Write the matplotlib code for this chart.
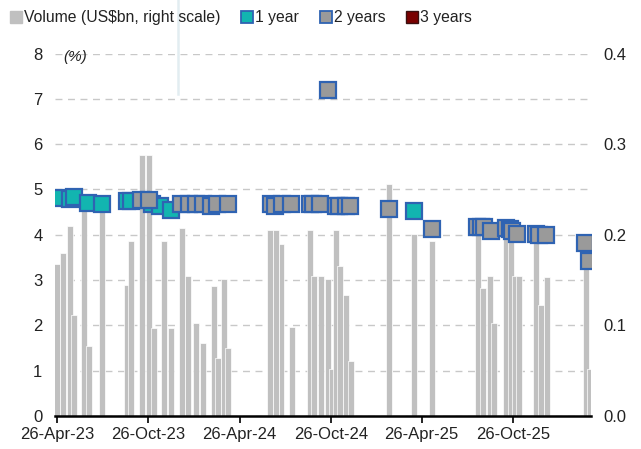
import matplotlib
matplotlib.use("Agg")
import matplotlib.dates as mdates
import matplotlib.pyplot as plt
import numpy as np
import pandas as pd
from matplotlib import font_manager
from matplotlib.lines import Line2D
from matplotlib.ticker import MultipleLocator

# volume bars (US$bn, right scale)
vol_dates = [
    "2023-04-27", "2023-05-08", "2023-05-22", "2023-05-30", "2023-06-19", "2023-06-29",
    "2023-07-26", "2023-09-14", "2023-09-21", "2023-10-14", "2023-10-27", "2023-11-07",
    "2023-11-26", "2023-12-10", "2024-01-01", "2024-01-14", "2024-01-29", "2024-02-12",
    "2024-03-05", "2024-03-13", "2024-03-26", "2024-04-03", "2024-06-26", "2024-07-08",
    "2024-07-19", "2024-08-09", "2024-09-14", "2024-09-22", "2024-10-06", "2024-10-20",
    "2024-10-28", "2024-11-05", "2024-11-13", "2024-11-25", "2024-12-05", "2025-02-19",
    "2025-04-11", "2025-05-16", "2025-08-17", "2025-08-26", "2025-09-09", "2025-09-17",
    "2025-10-12", "2025-10-22", "2025-10-30", "2025-11-07", "2025-12-11", "2025-12-21",
    "2026-01-02", "2026-03-21", "2026-03-29",
]
vol_values = [
    0.168, 0.180, 0.210, 0.112, 0.233, 0.077,
    0.233, 0.145, 0.193, 0.288, 0.288, 0.097,
    0.193, 0.097, 0.208, 0.154, 0.103, 0.081,
    0.144, 0.064, 0.151, 0.075, 0.205, 0.205,
    0.190, 0.098, 0.205, 0.155, 0.155, 0.151,
    0.052, 0.205, 0.166, 0.134, 0.061, 0.256,
    0.201, 0.193, 0.208, 0.141, 0.154, 0.103,
    0.205, 0.200, 0.154, 0.154, 0.198, 0.123,
    0.153, 0.201, 0.052,
]

# yields (%, left scale)
y1_dates = [
    "2023-04-27", "2023-05-23", "2023-05-31", "2023-06-27", "2023-07-26", "2023-09-14",
    "2023-09-22", "2023-11-02", "2023-11-18", "2023-12-10", "2025-04-11",
]
y1_values = [4.82, 4.78, 4.83, 4.70, 4.68, 4.75, 4.75, 4.68, 4.63, 4.55, 4.52]

y2_dates = [
    "2023-10-12", "2023-10-28", "2023-12-30", "2024-01-15", "2024-01-29", "2024-02-12",
    "2024-02-28", "2024-03-11", "2024-04-03", "2024-06-27", "2024-07-05", "2024-07-19",
    "2024-08-08", "2024-09-14", "2024-09-20", "2024-10-04", "2024-10-20", "2024-11-05",
    "2024-11-11", "2024-11-25", "2024-12-03", "2025-02-19", "2025-05-17", "2025-08-15",
    "2025-08-22", "2025-08-29", "2025-09-12", "2025-10-12", "2025-10-19", "2025-10-24",
    "2025-11-03", "2025-12-11", "2025-12-18", "2026-01-01", "2026-03-20", "2026-03-27",
]
y2_values = [
    4.76, 4.76, 4.68, 4.68, 4.68, 4.68,
    4.63, 4.68, 4.67, 4.68, 4.63, 4.68,
    4.68, 4.68, 4.67, 4.68, 7.20, 4.63,
    4.63, 4.64, 4.64, 4.56, 4.13, 4.18,
    4.18, 4.17, 4.08, 4.15, 4.12, 4.08,
    4.02, 4.02, 4.00, 4.00, 3.81, 3.43,
]

y3_dates = []
y3_values = []

tick_dates = ["2023-04-26", "2023-10-26", "2024-04-26", "2024-10-26", "2025-04-26", "2025-10-26"]
x_range = ["2023-04-22", "2026-04-01"]

TEAL = "#12b5b0"
GREY_MK = "#9a9a9a"
EDGE = "#2f63b2"
BAR = "#c0c0c0"

names = {f.name for f in font_manager.fontManager.ttflist}
base_font = "Liberation Sans Narrow" if "Liberation Sans Narrow" in names else "Liberation Sans"
plt.rcParams["font.family"] = [base_font, "DejaVu Sans"]
plt.rcParams["font.size"] = 12

fig = plt.figure(figsize=(6.41, 4.49), dpi=100)
ax = fig.add_axes([0.0858, 0.0735, 0.8367, 0.8073])
ax2 = ax.twinx()
ax.set_zorder(2)
ax2.set_zorder(1)
ax.patch.set_visible(False)

# bars on the right-scale axis
ax2.bar(pd.to_datetime(vol_dates), vol_values, width=12, color=BAR,
        edgecolor="white", linewidth=0.5, zorder=2)
ax2.set_ylim(0, 0.4)
ax2.set_yticks(np.arange(0, 0.41, 0.1))
ax2.set_yticklabels([f"{v:.1f}" for v in np.arange(0, 0.41, 0.1)])
ax2.yaxis.set_minor_locator(MultipleLocator(0.05))
ax2.grid(axis="y", which="both", color="#c8c8c8", linestyle=(0, (5, 4)), linewidth=1, zorder=0)
ax2.set_axisbelow(True)
ax2.tick_params(axis="y", which="both", length=0, pad=9, labelsize=12, colors="#222222")

# yield markers
mk = dict(marker="s", linestyle="none", markersize=11.5, markeredgecolor=EDGE, markeredgewidth=1.6)
ax.plot(pd.to_datetime(y1_dates), y1_values, markerfacecolor=TEAL, **mk)
ax.plot(pd.to_datetime(y2_dates), y2_values, markerfacecolor=GREY_MK, **mk)
ax.plot(pd.to_datetime(y3_dates), y3_values, markerfacecolor="#7a0000", **mk)

ax.set_ylim(0, 8)
ax.set_yticks(range(0, 9))
ax.tick_params(axis="y", length=0, pad=9, labelsize=12, colors="#222222")

ax.set_xlim(pd.to_datetime(x_range))
ax.set_xticks(pd.to_datetime(tick_dates))
ax.xaxis.set_major_formatter(mdates.DateFormatter("%d-%b-%y"))
ax.tick_params(axis="x", direction="out", length=5, width=1.2, pad=3, labelsize=12, colors="#222222")
ax.tick_params(axis="x", color="black")

for a in (ax, ax2):
    for side in ("top", "left", "right", "bottom"):
        a.spines[side].set_visible(False)
ax.spines["bottom"].set_visible(True)
ax.spines["bottom"].set_linewidth(1.8)
ax.spines["bottom"].set_color("black")

ax.text(0.015, 0.99, "(%)", transform=ax.transAxes, fontsize=11, style="italic",
        ha="left", va="center", color="#222222")

handles = [
    Line2D([], [], marker="s", linestyle="none", markersize=9, markerfacecolor=BAR, markeredgecolor=BAR),
    Line2D([], [], marker="s", linestyle="none", markersize=8, markerfacecolor=TEAL,
           markeredgecolor=EDGE, markeredgewidth=1.3),
    Line2D([], [], marker="s", linestyle="none", markersize=8, markerfacecolor=GREY_MK,
           markeredgecolor=EDGE, markeredgewidth=1.3),
    Line2D([], [], marker="s", linestyle="none", markersize=8, markerfacecolor="#7a0000",
           markeredgecolor="#3a1010", markeredgewidth=1.0),
]
labels = ["Volume (US$bn, right scale)", "1 year", "2 years", "3 years"]
fig.legend(handles, labels, loc="upper left", bbox_to_anchor=(0.0, 1.0), ncol=4, frameon=False,
           handlelength=0.8, handletextpad=0.1, columnspacing=1.3, borderaxespad=0.25,
           fontsize=11.3, labelcolor="#222222")

# faint vertical stripe seen near the top of the reference
fig.add_artist(Line2D([0.2777, 0.2777], [0.79, 1.0], color="#e2edf1", linewidth=1.8))

fig.savefig("out.png", dpi=100)
